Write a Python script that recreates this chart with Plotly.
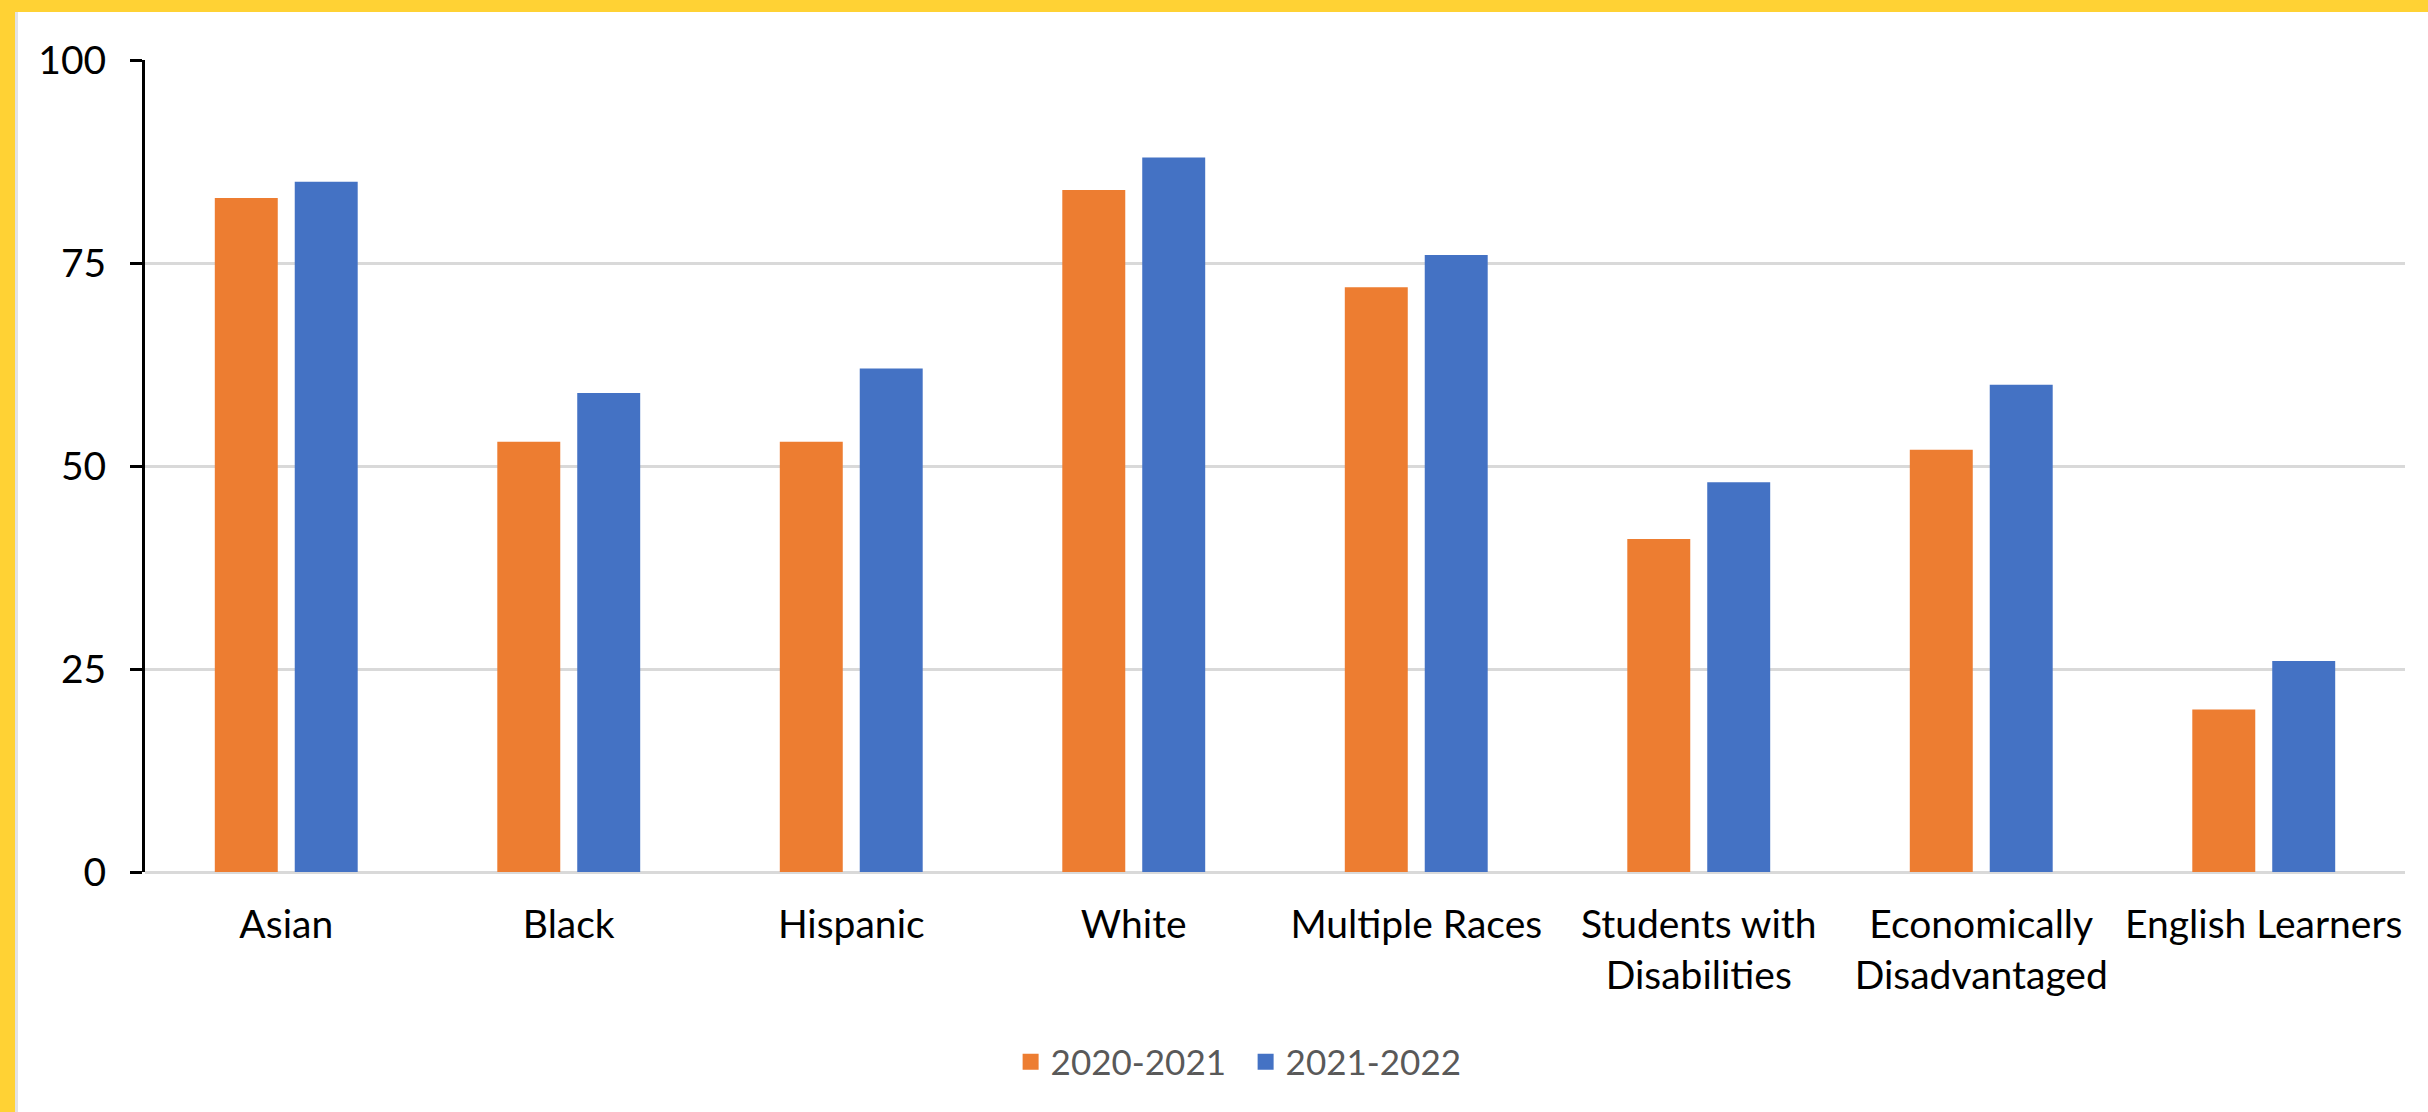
import plotly.graph_objects as go

# Share of students by group, two school years
categories = ["Asian", "Black", "Hispanic", "White", "Multiple Races",
              "Students with<br>Disabilities", "Economically<br>Disadvantaged",
              "English Learners"]
series_names = ["2020-2021", "2021-2022"]
values_2020_2021 = [83, 53, 53, 84, 72, 41, 52, 20]
values_2021_2022 = [85, 59, 62, 88, 76, 48, 60, 26]
y_ticks = [0, 25, 50, 75, 100]

ORANGE = "#ED7D31"
BLUE = "#4472C4"
YELLOW = "#FFD234"
FONT = "Lato"

fig = go.Figure()
for name, vals, color in [(series_names[0], values_2020_2021, ORANGE),
                          (series_names[1], values_2021_2022, BLUE)]:
    fig.add_trace(go.Bar(x=categories, y=vals, name=name, showlegend=False,
                         legendgroup=name,
                         marker=dict(color=color, line=dict(width=0))))
    # legend key drawn as a larger square swatch
    fig.add_trace(go.Scatter(x=[None], y=[None], name=name, mode="markers",
                             legendgroup=name,
                             marker=dict(symbol="square", size=21, color=color,
                                         line=dict(width=0))))

fig.update_layout(
    width=2428, height=1112,
    margin=dict(l=145, r=23, t=60, b=240),
    paper_bgcolor="white", plot_bgcolor="white",
    barmode="group", bargap=0.434, bargroupgap=0.2125,
    font=dict(family=FONT, size=38, color="#000000"),
    showlegend=True,
    legend=dict(orientation="h", x=0.487, xanchor="center", y=-0.234,
                yanchor="middle", font=dict(size=35, color="#595959"),
                traceorder="normal", itemsizing="trace", entrywidth=190),
    xaxis=dict(showline=False, ticks="", showgrid=False,
               tickfont=dict(size=39, color="#000000"), ticklabelstandoff=26),
    yaxis=dict(range=[0, 100], tickvals=y_ticks, showgrid=True,
               gridcolor="#D9D9D9", gridwidth=3,
               zeroline=True, zerolinecolor="#D9D9D9", zerolinewidth=3,
               showline=True, linecolor="#000000", linewidth=3,
               ticks="outside", ticklen=12, tickwidth=3, tickcolor="#000000",
               tickfont=dict(size=39, color="#000000"), ticklabelstandoff=16),
    shapes=[
        # yellow frame along the top and left edges
        dict(type="rect", xref="paper", yref="paper", xsizemode="pixel",
             xanchor=0, x0=-145, x1=-130, y0=-1, y1=2,
             fillcolor=YELLOW, line=dict(width=0), layer="above"),
        dict(type="rect", xref="paper", yref="paper", ysizemode="pixel",
             yanchor=1, y0=48, y1=80, x0=-0.2, x1=1.2,
             fillcolor=YELLOW, line=dict(width=0), layer="above"),
        # thin grey edge just inside the left strip
        dict(type="rect", xref="paper", yref="paper", xsizemode="pixel",
             ysizemode="pixel", xanchor=0, yanchor=1,
             x0=-130, x1=-127, y0=48, y1=-1200,
             fillcolor="#E3E3E3", line=dict(width=0), layer="above"),
    ],
)

fig.write_html("out.html")
